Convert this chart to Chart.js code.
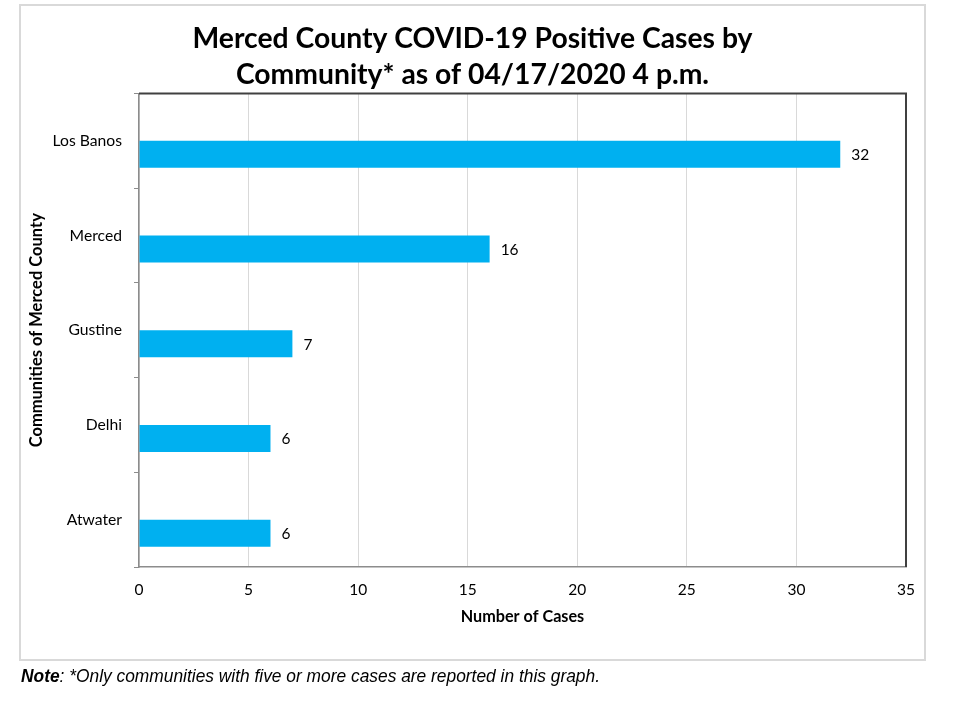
<!DOCTYPE html>
<html>
<head>
<meta charset="utf-8">
<script src="https://cdn.jsdelivr.net/npm/chart.js@4/dist/chart.umd.min.js"></script>
<style>
  html, body { margin: 0; padding: 0; background: #fff; }
  #wrap { position: relative; width: 960px; height: 704px; }
  #c { position: absolute; left: 0; top: 0; }
  #note { position: absolute; left: 21px; top: 666px; font-family: "Liberation Sans", Arial, sans-serif;
          font-style: italic; font-size: 18px; color: #000; white-space: nowrap; transform-origin: 0 0; }
</style>
</head>
<body>
<div id="wrap">
  <canvas id="c" width="960" height="704"></canvas>
  <div id="note"><b>Note</b>: *Only communities with five or more cases are reported in this graph.</div>
</div>
<script>
const categories = ["Los Banos", "Merced", "Gustine", "Delhi", "Atwater"];
const cases = [32, 16, 7, 6, 6];
const xTicks = [0, 5, 10, 15, 20, 25, 30, 35];
const titleLines = ["Merced County COVID-19 Positive Cases by", "Community* as of 04/17/2020 4 p.m."];
const xTitle = "Number of Cases";
const yTitle = "Communities of Merced County";

// fit note width
const note = document.getElementById('note');
const nw = note.getBoundingClientRect().width;
note.style.transform = 'scaleX(' + (579 / nw) + ')';

const FONT = "Lato, 'Open Sans', sans-serif";

const frame = {
  id: 'frame',
  beforeDraw(chart) {
    const ctx = chart.ctx;
    ctx.save();
    ctx.strokeStyle = '#d9d9d9';
    ctx.lineWidth = 2;
    ctx.strokeRect(20, 5, 905, 655);
    ctx.restore();
  },
  afterDraw(chart) {
    const a = chart.chartArea, ctx = chart.ctx;
    ctx.save();
    ctx.strokeStyle = '#404040';
    ctx.lineWidth = 2;
    ctx.beginPath();
    ctx.moveTo(a.left, a.top);
    ctx.lineTo(a.right, a.top);
    ctx.lineTo(a.right, a.bottom);
    ctx.stroke();
    ctx.restore();
  }
};

const valueLabels = {
  id: 'valueLabels',
  afterDatasetsDraw(chart) {
    const ctx = chart.ctx;
    const meta = chart.getDatasetMeta(1);
    ctx.save();
    ctx.font = "15.5px " + FONT;
    ctx.fillStyle = '#000';
    ctx.textAlign = 'left';
    ctx.textBaseline = 'middle';
    meta.data.forEach((bar, i) => {
      ctx.fillText(String(cases[i]), bar.x + 11, bar.y + 1);
    });
    ctx.restore();
  }
};

new Chart(document.getElementById('c'), {
  type: 'bar',
  data: {
    labels: categories,
    datasets: [
      { label: '', data: categories.map(() => null) },
      { label: 'Cases', data: cases, backgroundColor: '#00b0f0', borderWidth: 0 }
    ]
  },
  options: {
    indexAxis: 'y',
    responsive: false,
    animation: false,
    events: [],
    categoryPercentage: 0.57,
    barPercentage: 1,
    layout: { padding: { left: 21, right: 36, top: 5, bottom: 44 } },
    plugins: {
      legend: { display: false },
      tooltip: { enabled: false },
      title: {
        display: true,
        text: titleLines,
        color: '#000',
        font: { family: FONT, size: 28.3, weight: 'bold', lineHeight: 1.28 },
        padding: { top: 16, bottom: 0 }
      }
    },
    scales: {
      x: {
        min: 0, max: 35,
        afterBuildTicks(scale) { scale.ticks = xTicks.map(v => ({ value: v })); },
        afterFit(scale) { scale.height = 93; },
        ticks: { color: '#000', font: { family: FONT, size: 15.5 }, padding: 14 },
        grid: { color: '#d9d9d9', lineWidth: 1, drawTicks: false },
        border: { display: true, color: '#8c8c8c', width: 1.5 },
        title: { display: true, text: xTitle, color: '#000',
                 font: { family: FONT, size: 16.2, weight: 'bold' }, padding: { top: 0, bottom: 34 } }
      },
      y: {
        afterFit(scale) { scale.width = 118; },
        ticks: { color: '#000', font: { family: FONT, size: 15.7 }, padding: 12 },
        grid: { drawOnChartArea: false, drawTicks: true, tickLength: 5, tickColor: '#8c8c8c', color: '#8c8c8c' },
        border: { display: true, color: '#8c8c8c', width: 1.5 },
        title: { display: true, text: yTitle, color: '#000',
                 font: { family: FONT, size: 16.5, weight: 'bold' }, padding: { top: 6, bottom: 0 } }
      },
      yPad: {
        type: 'category',
        position: 'right',
        afterFit(scale) { scale.width = 18; },
        ticks: { display: false },
        grid: { display: false },
        border: { display: false }
      }
    }
  },
  plugins: [frame, valueLabels]
});
</script>
</body>
</html>
